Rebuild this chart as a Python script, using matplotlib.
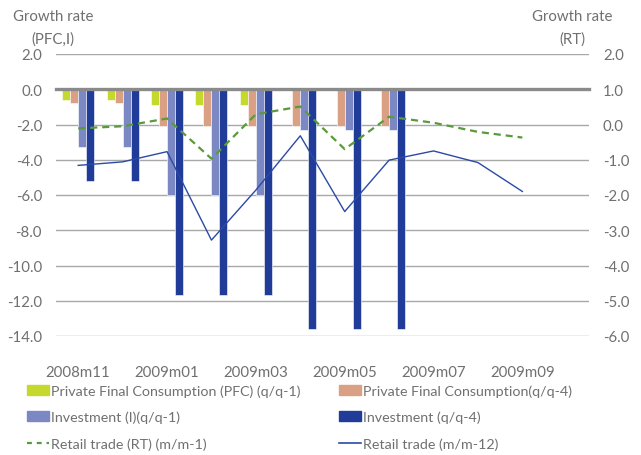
import numpy as np
import matplotlib
matplotlib.use("Agg")
import matplotlib.pyplot as plt
from matplotlib.patches import Patch
from matplotlib.lines import Line2D

nan = np.nan
months = ["2008m11", "2008m12", "2009m01", "2009m02", "2009m03", "2009m04",
          "2009m05", "2009m06", "2009m07", "2009m08", "2009m09", "2009m10"]
# quarterly figures, repeated for each month of the quarter
pfc_q1 = [-0.6, -0.6, -0.9, -0.9, -0.9, -0.05, -0.05, -0.05, nan, nan, nan, nan]
pfc_q4 = [-0.8, -0.8, -2.1, -2.1, -2.1, -2.1, -2.1, -2.1, nan, nan, nan, nan]
inv_q1 = [-3.3, -3.3, -6.0, -6.0, -6.0, -2.3, -2.3, -2.3, nan, nan, nan, nan]
inv_q4 = [-5.2, -5.2, -11.7, -11.7, -11.7, -13.6, -13.6, -13.6, nan, nan, nan, nan]
# monthly retail trade (right axis)
rt_m1 = [-0.11, -0.05, 0.17, -0.97, 0.29, 0.51, -0.70, 0.22, 0.05, -0.21, -0.37, nan]
rt_m12 = [-1.16, -1.06, -0.77, -3.28, -1.86, -0.32, -2.47, -1.01, -0.75, -1.08, -1.90, nan]

left_ticks = [2.0, 0.0, -2.0, -4.0, -6.0, -8.0, -10.0, -12.0, -14.0]
right_ticks = [2.0, 1.0, 0.0, -1.0, -2.0, -3.0, -4.0, -5.0, -6.0]

C_PFC1, C_PFC4 = "#c4d82e", "#d9a084"
C_INV1, C_INV4 = "#7b88c4", "#213c98"
C_RT1, C_RT12 = "#5a9a3c", "#2a4aa6"
TXT = "#707070"
GRID = "#a8a8a8"

plt.rcParams["font.family"] = ["Lato", "DejaVu Sans"]
FS = 10.8
LEG_FS = 10.3

fig = plt.figure(figsize=(6.41, 4.56), dpi=100)
ax = fig.add_axes([56 / 641, 1 - 337 / 456, (589 - 56) / 641, (337 - 55) / 456])
ax2 = ax.twinx()

x = np.arange(len(months))
w = 0.18
for k, (vals, col) in enumerate([(pfc_q1, C_PFC1), (pfc_q4, C_PFC4),
                                 (inv_q1, C_INV1), (inv_q4, C_INV4)]):
    ax.bar(x + (k - 1.5) * w, vals, w, color=col, edgecolor="white",
           linewidth=0.4, zorder=2)

ax2.plot(x, rt_m1, color=C_RT1, lw=1.6, dashes=(3.2, 2.2))
ax2.plot(x, rt_m12, color=C_RT12, lw=1.0)

ax.set_xlim(-0.5, len(months) - 0.5)
ax.set_ylim(-14, 2)
ax2.set_ylim(-6, 2)
ax.set_yticks(left_ticks)
ax.set_yticklabels(["%.1f" % v for v in left_ticks])
ax2.set_yticks(right_ticks)
ax2.set_yticklabels(["%.1f" % v for v in right_ticks])
ax.yaxis.grid(True, color=GRID, lw=1.0)
ax.set_axisbelow(True)

for a in (ax, ax2):
    for s in a.spines.values():
        s.set_visible(False)
    a.tick_params(axis="y", length=0, labelsize=FS, labelcolor=TXT, pad=10)

# zero line with boundary ticks
ax.spines["bottom"].set_visible(True)
ax.spines["bottom"].set_position(("data", 0))
ax.spines["bottom"].set_color("#8a8a8a")
ax.spines["bottom"].set_linewidth(2.4)
ax.spines["bottom"].set_zorder(3)
ax.set_xticks(np.arange(len(months) + 1) - 0.5)
ax.tick_params(axis="x", length=4, width=1, color="#9a9a9a", direction="out",
               labelbottom=False)
ax2.set_xticks([])

sec = ax.secondary_xaxis("bottom")
sec.spines["bottom"].set_visible(False)
sec.set_xticks(x[::2])
sec.set_xticklabels(months[::2])
sec.tick_params(length=0, labelsize=FS, labelcolor=TXT, pad=21)

fig.text(53 / 641, 1 - 17 / 456, "Growth rate", ha="center", va="center",
         fontsize=FS, color=TXT)
fig.text(53 / 641, 1 - 40 / 456, "(PFC,I)", ha="center", va="center",
         fontsize=FS, color=TXT)
fig.text(572 / 641, 1 - 17 / 456, "Growth rate", ha="center", va="center",
         fontsize=FS, color=TXT)
fig.text(572 / 641, 1 - 40 / 456, "(RT)", ha="center", va="center",
         fontsize=FS, color=TXT)

col1 = [Patch(color=C_PFC1), Patch(color=C_INV1),
        Line2D([], [], color=C_RT1, lw=1.6, dashes=(2.2, 2.2))]
lab1 = ["Private Final Consumption (PFC) (q/q-1)", "Investment (I)(q/q-1)",
        "Retail trade (RT) (m/m-1)"]
col2 = [Patch(color=C_PFC4), Patch(color=C_INV4),
        Line2D([], [], color=C_RT12, lw=1.2)]
lab2 = ["Private Final Consumption(q/q-4)", "Investment (q/q-4)",
        "Retail trade (m/m-12)"]
for hs, ls, x0 in [(col1, lab1, 27), (col2, lab2, 339)]:
    fig.legend(hs, ls, loc="upper left", bbox_to_anchor=(x0 / 641, 1 - 385 / 456),
               frameon=False, fontsize=LEG_FS, labelcolor=TXT, handlelength=1.55,
               handleheight=0.7, handletextpad=0.15, labelspacing=1.0,
               borderpad=0, borderaxespad=0)

fig.savefig("out.png", dpi=100)
